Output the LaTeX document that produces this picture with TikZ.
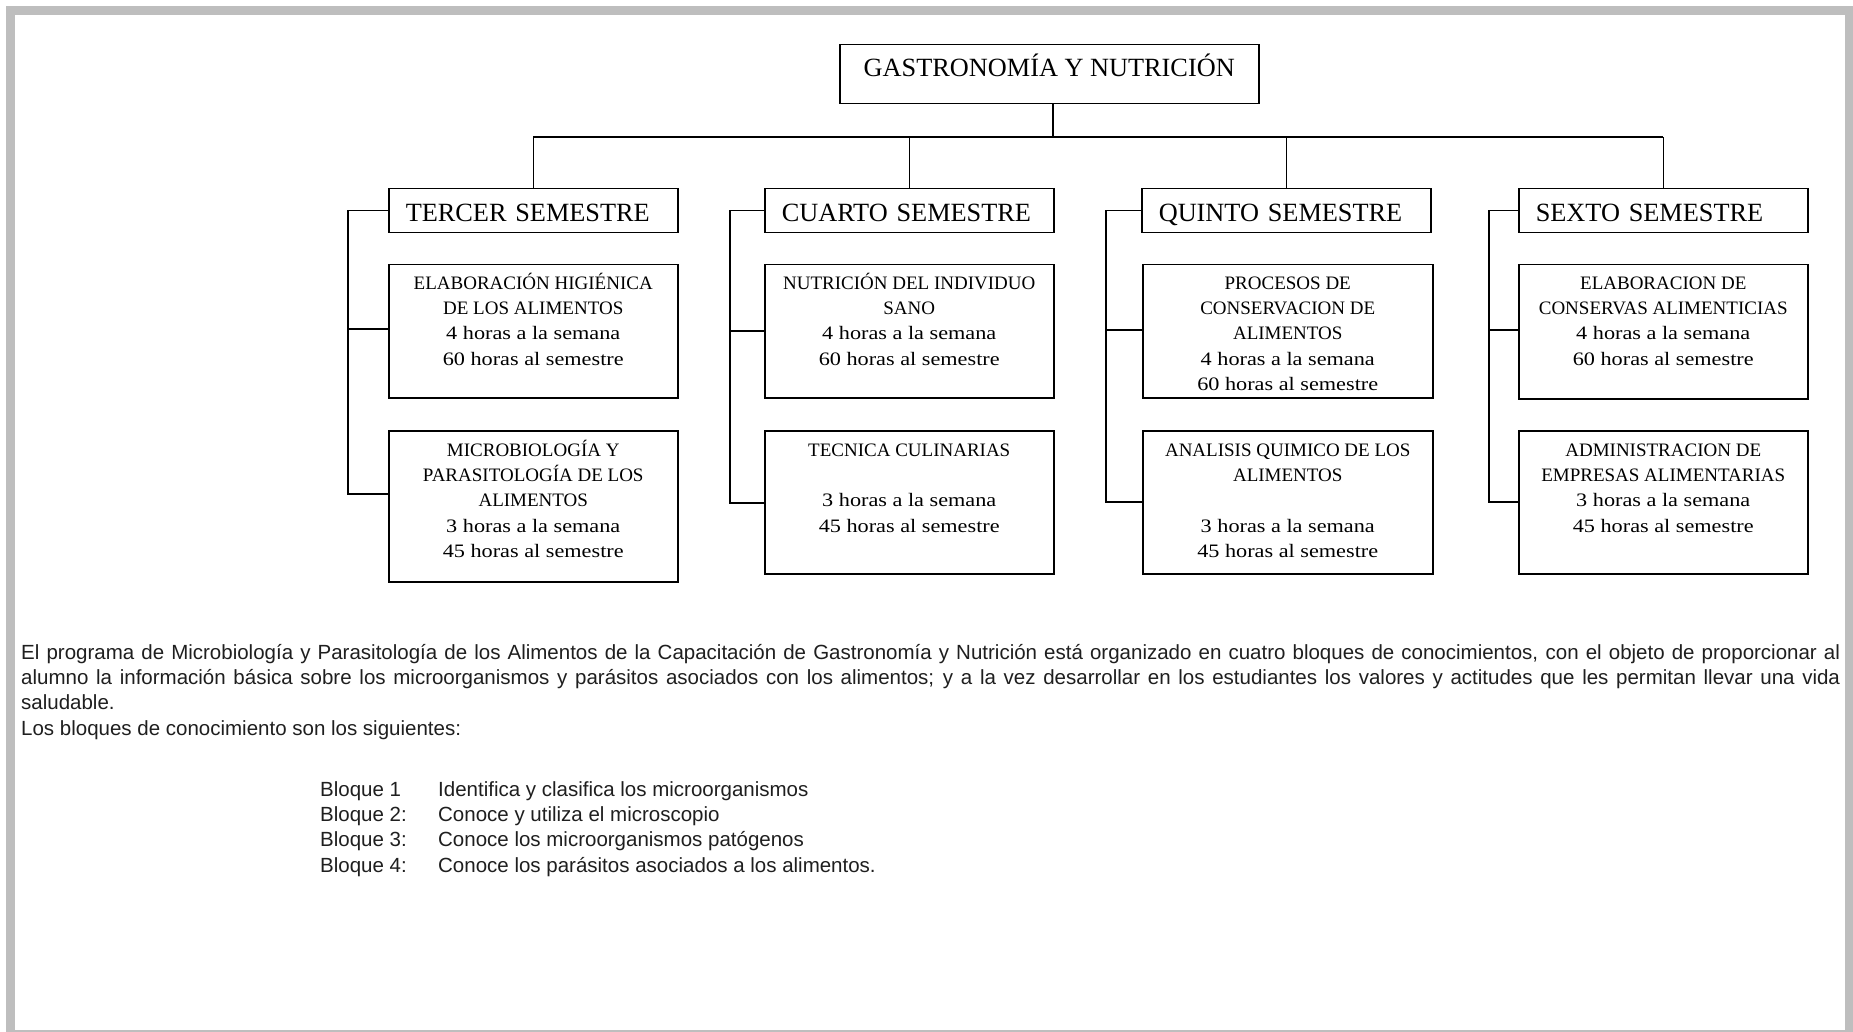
\documentclass[tikz,border=0pt]{standalone}
\usepackage{fontspec}
\setmainfont{Liberation Serif}
\newfontfamily\wideserif[FakeStretch=1.17]{Liberation Serif}
\newfontfamily\bodysans{Liberation Sans}
\usetikzlibrary{calc}
\definecolor{framegray}{RGB}{190,190,190}
\begin{document}
\begin{tikzpicture}[x=1pt,y=-1pt,
  link/.style={line width=1.5pt, black},
  titlebox/.style={draw, line width=1.5pt, anchor=north west, minimum width=419pt, minimum height=59pt, inner sep=0pt, text height=20pt, text depth=15pt, font=\fontsize{26.3}{30}\selectfont},
  sembox/.style={draw, line width=1.5pt, anchor=north west, minimum height=44pt, text width=255pt, inner xsep=17pt, inner ysep=0pt, align=left, text height=22pt, text depth=0pt, font=\fontsize{26.3}{30}\selectfont},
  cbox/.style={draw, line width=1.5pt, anchor=north west, minimum width=289pt, inner sep=0pt},
  ctext/.style={anchor=north, inner sep=0pt, align=center, font=\fontsize{19}{25.3}\selectfont},
  bodytext/.style={anchor=north west, inner sep=0pt, font=\bodysans\fontsize{20.5}{25.3}\selectfont, text=black!88}
]
\useasboundingbox (0,0) rectangle (1853,1032);
\fill[white] (0,0) rectangle (1853,1032);
\fill[framegray] (6,6) rectangle (1853,1032);
\fill[white] (15,15) rectangle (1845,1030);

% title
\node[titlebox] (top) at (839,44) {GASTRONOMÍA Y NUTRICIÓN};

% semesters
\node[sembox] (s3) at (388,188) {TERCER SEMESTRE};
\node[sembox] (s4) at (764,188) {CUARTO SEMESTRE};
\node[sembox] (s5) at (1141,188) {QUINTO SEMESTRE};
\node[sembox] (s6) at (1518,188) {SEXTO SEMESTRE};

% course boxes
\node[cbox, minimum height=133pt] (c31) at (388,264) {};
\node[cbox, minimum height=151pt] (c32) at (388,430) {};
\node[cbox, minimum height=133pt] (c41) at (764,264) {};
\node[cbox, minimum height=143pt] (c42) at (764,430) {};
\node[cbox, minimum height=133pt, minimum width=290pt] (c51) at (1142,264) {};
\node[cbox, minimum height=143pt, minimum width=290pt] (c52) at (1142,430) {};
\node[cbox, minimum height=134pt] (c61) at (1518,264) {};
\node[cbox, minimum height=143pt] (c62) at (1518,430) {};

% course texts
\node[ctext] (c31t) at ($(c31.north)+(0,5)$) {\rule{0pt}{20pt}ELABORACIÓN HIGIÉNICA\\ DE LOS ALIMENTOS\\ {\wideserif 4 horas a la semana}\\ {\wideserif 60 horas al semestre}};
\node[ctext] (c32t) at ($(c32.north)+(0,6)$) {\rule{0pt}{20pt}MICROBIOLOGÍA Y\\ PARASITOLOGÍA DE LOS\\ ALIMENTOS\\ {\wideserif 3 horas a la semana}\\ {\wideserif 45 horas al semestre}};
\node[ctext] (c41t) at ($(c41.north)+(0,5)$) {\rule{0pt}{20pt}NUTRICIÓN DEL INDIVIDUO\\ SANO\\ {\wideserif 4 horas a la semana}\\ {\wideserif 60 horas al semestre}};
\node[ctext] (c42t) at ($(c42.north)+(0,6)$) {\rule{0pt}{20pt}TECNICA CULINARIAS\\ ~\\ {\wideserif 3 horas a la semana}\\ {\wideserif 45 horas al semestre}};
\node[ctext] (c51t) at ($(c51.north)+(0,5)$) {\rule{0pt}{20pt}PROCESOS DE\\ CONSERVACION DE\\ ALIMENTOS\\ {\wideserif 4 horas a la semana}\\ {\wideserif 60 horas al semestre}};
\node[ctext] (c52t) at ($(c52.north)+(0,6)$) {\rule{0pt}{20pt}ANALISIS QUIMICO DE LOS\\ ALIMENTOS\\ ~\\ {\wideserif 3 horas a la semana}\\ {\wideserif 45 horas al semestre}};
\node[ctext] (c61t) at ($(c61.north)+(0,5)$) {\rule{0pt}{20pt}ELABORACION DE\\ CONSERVAS ALIMENTICIAS\\ {\wideserif 4 horas a la semana}\\ {\wideserif 60 horas al semestre}};
\node[ctext] (c62t) at ($(c62.north)+(0,6)$) {\rule{0pt}{20pt}ADMINISTRACION DE\\ EMPRESAS ALIMENTARIAS\\ {\wideserif 3 horas a la semana}\\ {\wideserif 45 horas al semestre}};

% tree connectors
\coordinate (bus) at (1053,137);
\draw[link] (top.south -| bus) -- (bus);
\draw[link] (s3.north |- bus) -- (s6.north |- bus);
\foreach \s in {s3,s4,s5,s6} \draw[link] (\s.north) -- (\s.north |- bus);

% brackets
\coordinate (k3a) at (348,329); \coordinate (k3b) at (348,494);
\coordinate (k4a) at (730,331); \coordinate (k4b) at (730,503);
\coordinate (k5a) at (1106,330); \coordinate (k5b) at (1106,502);
\coordinate (k6a) at (1489,330); \coordinate (k6b) at (1489,502);
\draw[link] (s3.west) -| (k3b) -- (c32.west |- k3b);
\draw[link] (k3a) -- (c31.west |- k3a);
\draw[link] (s4.west) -| (k4b) -- (c42.west |- k4b);
\draw[link] (k4a) -- (c41.west |- k4a);
\draw[link] (s5.west) -| (k5b) -- (c52.west |- k5b);
\draw[link] (k5a) -- (c51.west |- k5a);
\draw[link] (s6.west) -| (k6b) -- (c62.west |- k6b);
\draw[link] (k6a) -- (c61.west |- k6a);

% body text
\node[bodytext, text width=1819pt, align=justify] (para) at (21,639) {\rule{0pt}{20pt}El programa de Microbiología y Parasitología de los Alimentos de la Capacitación de Gastronomía y Nutrición está organizado en cuatro bloques de conocimientos, con el objeto de proporcionar al\linebreak alumno la información básica sobre los microorganismos y parásitos asociados con los alimentos; y a la vez desarrollar en los estudiantes los valores y actitudes que les permitan llevar una vida\linebreak saludable.\par Los bloques de conocimiento son los siguientes:};

\node[bodytext, align=left] (blq) at (320,776) {\rule{0pt}{20pt}\makebox[118pt][l]{Bloque 1}Identifica y clasifica los microorganismos\\ \makebox[118pt][l]{Bloque 2:}Conoce y utiliza el microscopio\\ \makebox[118pt][l]{Bloque 3:}Conoce los microorganismos patógenos\\ \makebox[118pt][l]{Bloque 4:}Conoce los parásitos asociados a los alimentos.};
\end{tikzpicture}
\end{document}
